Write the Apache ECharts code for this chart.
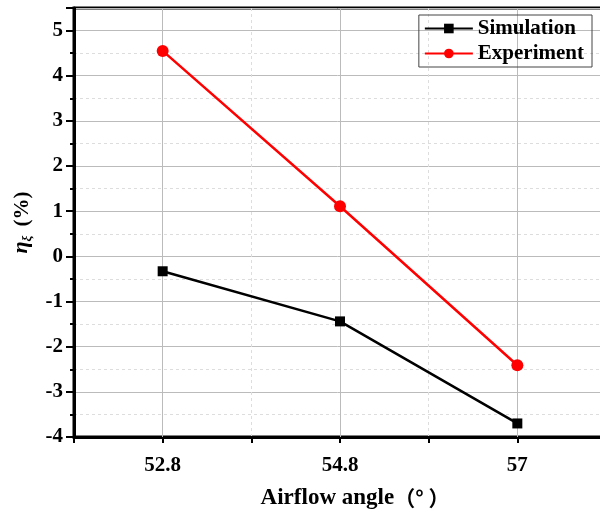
<!DOCTYPE html>
<html>
<head>
<meta charset="utf-8">
<script src="https://cdn.jsdelivr.net/npm/echarts@6/dist/echarts.min.js"></script>
<style>
  html, body { margin: 0; padding: 0; background: #fff; }
  #chart { width: 600px; height: 515px; }
</style>
</head>
<body>
<div id="chart"></div>
<script>
// airflow angle categories, evenly spaced on the axis
const angles = ['52.8', '54.8', '57'];
const simulation = [-0.33, -1.44, -3.70];
const experiment = [4.55, 1.11, -2.41];

const FONT = '"Liberation Serif", "Times New Roman", serif';
const CJK = '"Noto Sans CJK SC", sans-serif';

const chart = echarts.init(document.getElementById('chart'));

const toPoints = (vals) => vals.map((v, i) => [i, v]);

const option = {
    animation: false,
    grid: {
        left: 74, top: 8, right: -6, bottom: 78,
        outerBoundsMode: 'none',
        show: true, borderColor: '#000', borderWidth: 3
    },
    legend: {
        top: 15, right: 8,
        orient: 'vertical',
        borderColor: '#444', borderWidth: 1,
        padding: [3, 8, 3, 5],
        itemGap: 4,
        itemWidth: 48, itemHeight: 12,
        textStyle: { fontFamily: FONT, fontWeight: 'bold', fontSize: 21, color: '#000' },
        data: ['Simulation', 'Experiment']
    },
    xAxis: {
        type: 'value', min: -0.5, max: 2.5, interval: 0.5,
        axisLine: { onZero: false, lineStyle: { color: '#000', width: 3 } },
        axisTick: { length: 6, lineStyle: { color: '#000', width: 2 } },
        axisLabel: {
            margin: 18, color: '#000', fontFamily: FONT, fontWeight: 'bold', fontSize: 21,
            formatter: (v) => Number.isInteger(v) ? (angles[v] || '') : ''
        },
        splitLine: { show: true, lineStyle: { color: '#ddd', type: [3, 3], width: 1 } },
        name: '{a|Airflow angle}{c|（° ）}',
        nameLocation: 'middle', nameGap: 50,
        nameTextStyle: {
            color: '#000', padding: [0, 0, 0, 30],
            rich: {
                a: { fontFamily: FONT, fontWeight: 'bold', fontSize: 23, color: '#000' },
                c: { fontFamily: CJK, fontWeight: 'bold', fontSize: 21, color: '#000' }
            }
        }
    },
    yAxis: [{
        type: 'value', min: -4, max: 5.5, interval: 0.5, position: 'left',
        axisLine: { onZero: false, lineStyle: { color: '#000', width: 3 } },
        axisTick: { length: 4, lineStyle: { color: '#000', width: 2 } },
        axisLabel: { show: false },
        splitLine: { show: true, lineStyle: { color: '#ddd', type: [3, 3], width: 1 } }
    }, {
        type: 'value', min: -4, max: 5.5, interval: 1, position: 'left', offset: 0,
        axisLine: { show: false, onZero: false },
        axisTick: { length: 8, lineStyle: { color: '#000', width: 2 } },
        axisLabel: {
            margin: 11, color: '#000', fontFamily: FONT, fontWeight: 'bold', fontSize: 21,
            formatter: (v) => Number.isInteger(v) ? String(v) : ''
        },
        splitLine: { show: true, lineStyle: { color: '#bbb', width: 1 } },
        name: '{i|η}{s|ξ}   {b|(%)}',
        nameLocation: 'middle', nameGap: 38, nameRotate: 90,
        nameTextStyle: {
            fontFamily: FONT, color: '#000',
            rich: {
                i: { fontFamily: FONT, fontStyle: 'italic', fontWeight: 'bold', fontSize: 22, lineHeight: 24, verticalAlign: 'top' },
                s: { fontFamily: FONT, fontStyle: 'italic', fontWeight: 'bold', fontSize: 13, lineHeight: 24, verticalAlign: 'bottom', padding: [6, 0, 0, 0] },
                b: { fontFamily: FONT, fontWeight: 'bold', fontSize: 21, lineHeight: 24 }
            }
        }
    }],
    series: [{
        // solid vertical grid lines at each category
        type: 'line', data: [], z: 1, silent: true,
        markLine: {
            z: 1, silent: true, symbol: 'none', label: { show: false },
            lineStyle: { color: '#bbb', type: 'solid', width: 1 },
            data: angles.map((a, i) => ({ xAxis: i }))
        }
    }, {
        name: 'Simulation', type: 'line', data: toPoints(simulation), z: 3,
        symbol: 'rect', symbolSize: 10,
        lineStyle: { color: '#000', width: 2.5 },
        itemStyle: { color: '#000' }
    }, {
        name: 'Experiment', type: 'line', data: toPoints(experiment), z: 3,
        symbol: 'circle', symbolSize: 12,
        lineStyle: { color: '#f00', width: 2.5 },
        itemStyle: { color: '#f00' }
    }]
};

chart.setOption(option);
</script>
</body>
</html>
